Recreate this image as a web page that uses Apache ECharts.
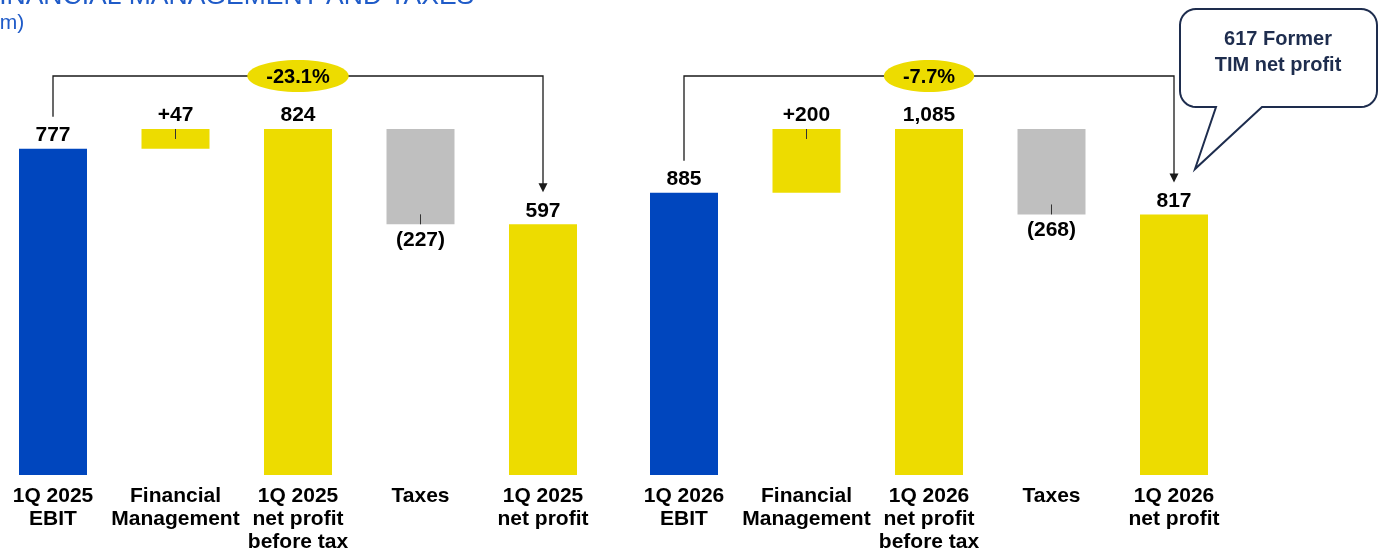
<!DOCTYPE html>
<html>
<head>
<meta charset="utf-8">
<script src="https://cdn.jsdelivr.net/npm/echarts@6/dist/echarts.min.js"></script>
<style>
  html, body { margin: 0; padding: 0; background: #ffffff; }
  #chart { width: 1383px; height: 552px; }
</style>
</head>
<body>
<div id="chart"></div>
<script>
// Bridge categories for each quarter
const categories2025 = ['1Q 2025\nEBIT', 'Financial\nManagement', '1Q 2025\nnet profit\nbefore tax', 'Taxes', '1Q 2025\nnet profit'];
const categories2026 = ['1Q 2026\nEBIT', 'Financial\nManagement', '1Q 2026\nnet profit\nbefore tax', 'Taxes', '1Q 2026\nnet profit'];

// Step values (€m): totals and deltas
const steps2025 = [777, 47, 824, -227, 597];
const steps2026 = [885, 200, 1085, -268, 817];
const stepKinds = ['total', 'delta', 'total', 'delta', 'total'];

// Year-on-year change, EBIT to net profit
const change2025 = '-23.1%';
const change2026 = '-7.7%';

// Callout note
const calloutLines = ['617 Former', 'TIM net profit'];

const titleText = 'FINANCIAL MANAGEMENT AND TAXES';
const unitText = '(€m)';

const BLUE = '#0046BE';
const YELLOW = '#EDDC00';
const GREY = '#BFBFBF';
const NAVY = '#1E2D4E';
const HEAD_BLUE = '#1F5BC8';
const FONT = '"Liberation Sans", Arial, sans-serif';

// layout
const catWidth = 122.5;
const firstCenters = [53, 684];
const gridTop = 40;
const gridBottom = 77;
const plotHeight = 552 - gridTop - gridBottom;
const peakShare = 346 / plotHeight;   // tallest bar of each bridge fills the same height
const bracketY = 76;

function bridge(steps) {
  const base = [], size = [];
  let running = 0;
  steps.forEach((v, i) => {
    if (stepKinds[i] === 'total') {
      base.push(0); size.push(v); running = v;
    } else if (v >= 0) {
      base.push(running); size.push(v); running += v;
    } else {
      base.push(running + v); size.push(-v); running += v;
    }
  });
  return { base, size };
}

function labelText(v, i) {
  if (stepKinds[i] === 'total') return v.toLocaleString('en-US');
  return v >= 0 ? '+' + v : '(' + (-v) + ')';
}

function barColor(v, i) {
  if (i === 0) return BLUE;
  if (stepKinds[i] === 'delta' && v < 0) return GREY;
  return YELLOW;
}

const groups = [
  { cats: categories2025, steps: steps2025, change: change2025 },
  { cats: categories2026, steps: steps2026, change: change2026 }
];

const grids = [], xAxes = [], yAxes = [], series = [];
groups.forEach((g, gi) => {
  const b = bridge(g.steps);
  const peak = Math.max(...b.base.map((v, i) => v + b.size[i]));
  // categories sit on the axis points, so the grid spans first to last bar centre
  grids.push({
    left: firstCenters[gi],
    width: catWidth * (g.cats.length - 1),
    top: gridTop,
    bottom: gridBottom,
    containLabel: false,
    outerBoundsMode: 'none'
  });
  xAxes.push({
    type: 'category', gridIndex: gi, data: g.cats, boundaryGap: false,
    axisLine: { show: false }, axisTick: { show: false }, splitLine: { show: false },
    axisLabel: {
      interval: 0, margin: 10, color: '#000', fontFamily: FONT,
      fontWeight: 'bold', fontSize: 21, lineHeight: 23, verticalAlign: 'top'
    }
  });
  yAxes.push({ type: 'value', gridIndex: gi, min: 0, max: peak / peakShare, show: false, splitLine: { show: false } });
  series.push({
    type: 'bar', xAxisIndex: gi, yAxisIndex: gi, stack: 'bridge' + gi,
    barWidth: 68, silent: true, clip: false,
    itemStyle: { color: 'rgba(0,0,0,0)' },
    data: b.base
  });
  series.push({
    type: 'bar', xAxisIndex: gi, yAxisIndex: gi, stack: 'bridge' + gi,
    barWidth: 68, clip: false,
    data: b.size.map((s, i) => ({
      value: s,
      itemStyle: { color: barColor(g.steps[i], i) },
      label: {
        show: true,
        position: g.steps[i] < 0 ? 'bottom' : 'top',
        distance: g.steps[i] < 0 ? 5 : 3,
        formatter: labelText(g.steps[i], i),
        color: '#000', fontFamily: FONT, fontWeight: 'bold', fontSize: 21
      }
    }))
  });
});

const chart = echarts.init(document.getElementById('chart'), null, { renderer: 'canvas' });
chart.setOption({
  animation: false,
  backgroundColor: '#ffffff',
  grid: grids,
  xAxis: xAxes,
  yAxis: yAxes,
  series: series
});

// annotation layer: brackets, change badges, value ticks, callout, headings
const measure = document.createElement('canvas').getContext('2d');
measure.font = 'bold 20px ' + FONT;

const elements = [];
const lineStyle = { stroke: '#1a1a1a', lineWidth: 1.3 };

groups.forEach((g, gi) => {
  const b = bridge(g.steps);
  const at = (i, v) => chart.convertToPixel({ xAxisIndex: gi, yAxisIndex: gi }, [i, v]);
  const last = g.steps.length - 1;
  const start = at(0, b.base[0] + b.size[0]);
  const end = at(last, b.base[last] + b.size[last]);
  const tipY = end[1] - 32;
  elements.push({
    type: 'polyline', z: 10,
    shape: { points: [[start[0], start[1] - 32], [start[0], bracketY], [end[0], bracketY], [end[0], tipY - 8]] },
    style: Object.assign({ fill: null }, lineStyle)
  });
  elements.push({
    type: 'polygon', z: 10,
    shape: { points: [[end[0] - 4.5, tipY - 9], [end[0] + 4.5, tipY - 9], [end[0], tipY]] },
    style: { fill: '#1a1a1a' }
  });
  // change badge over the pre-tax bar
  const mid = at(2, 0)[0];
  const tw = measure.measureText(g.change).width;
  elements.push({
    type: 'ellipse', z: 11,
    shape: { cx: mid, cy: bracketY, rx: tw / 2 + 19, ry: 16 },
    style: { fill: YELLOW }
  });
  elements.push({
    type: 'text', z: 12, x: mid, y: bracketY + 1,
    style: { text: g.change, fill: '#000', font: 'bold 20px ' + FONT, textAlign: 'center', textVerticalAlign: 'middle' }
  });
  // short ticks linking delta labels to their bars
  g.steps.forEach((v, i) => {
    if (stepKinds[i] !== 'delta') return;
    const top = at(i, b.base[i] + b.size[i]);
    const bottom = at(i, b.base[i]);
    const y1 = v >= 0 ? top[1] : bottom[1] - 10;
    elements.push({
      type: 'line', z: 10,
      shape: { x1: top[0], y1: y1, x2: top[0], y2: y1 + 10 },
      style: { stroke: '#333', lineWidth: 1 }
    });
  });
});

// speech bubble with rounded corners and a tail
function roundedBubble(x0, y0, x1, y1, r, tail) {
  const pts = [];
  const arc = (cx, cy, a0, a1) => {
    for (let k = 0; k <= 8; k++) {
      const a = a0 + (a1 - a0) * k / 8;
      pts.push([cx + r * Math.cos(a), cy + r * Math.sin(a)]);
    }
  };
  arc(x0 + r, y0 + r, Math.PI, Math.PI * 1.5);
  arc(x1 - r, y0 + r, Math.PI * 1.5, Math.PI * 2);
  arc(x1 - r, y1 - r, 0, Math.PI * 0.5);
  pts.push([tail[0], y1], tail[1], [tail[2], y1]);
  arc(x0 + r, y1 - r, Math.PI * 0.5, Math.PI);
  return pts;
}
elements.push({
  type: 'polygon', z: 20,
  shape: { points: roundedBubble(1180, 9, 1377, 107, 16, [1262, [1195, 169], 1216]) },
  style: { fill: '#ffffff', stroke: NAVY, lineWidth: 2 }
});
calloutLines.forEach((t, k) => {
  elements.push({
    type: 'text', z: 21, x: 1278, y: 39 + k * 26,
    style: { text: t, fill: NAVY, font: 'bold 20px ' + FONT, textAlign: 'center', textVerticalAlign: 'middle' }
  });
});

// headings (the page heading runs off the top and left edges)
elements.push({
  type: 'text', z: 5, x: -17, y: -3,
  style: { text: titleText, fill: HEAD_BLUE, font: '26.5px ' + FONT, textAlign: 'left', textVerticalAlign: 'middle' }
});
elements.push({
  type: 'text', z: 5, x: -19, y: 23,
  style: { text: unitText, fill: HEAD_BLUE, font: '21px ' + FONT, textAlign: 'left', textVerticalAlign: 'middle' }
});

chart.setOption({ graphic: { elements: elements } });
</script>
</body>
</html>
